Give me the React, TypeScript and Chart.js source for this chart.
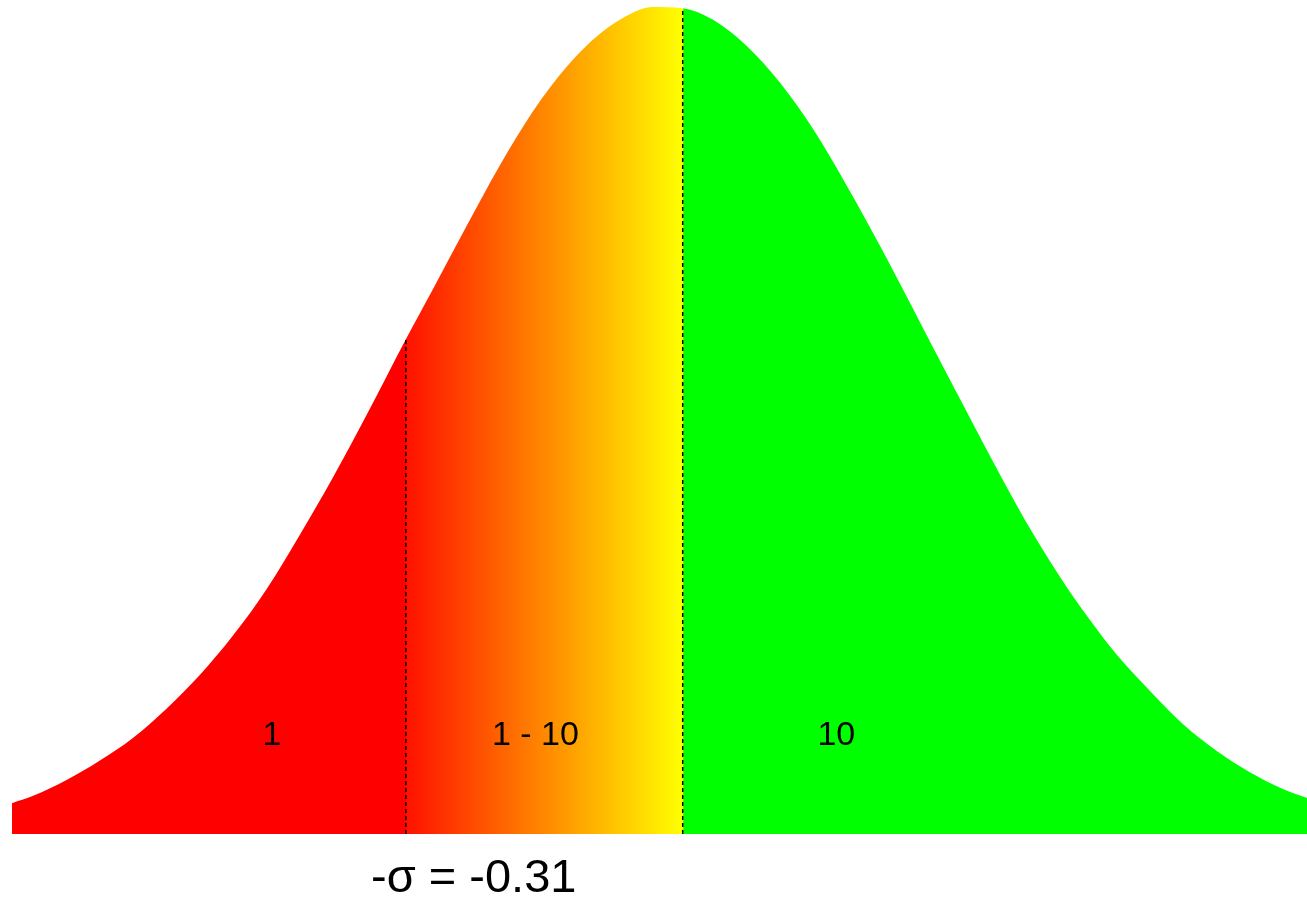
import React, { useEffect, useRef } from "react";
import { Chart, registerables } from "chart.js";

Chart.register(...registerables);

// Curve (x in data units, y = density)
const curveX = [
  -0.751, -0.728, -0.69, -0.653, -0.616, -0.578, -0.541, -0.504, -0.466, -0.429,
  -0.392, -0.354, -0.31, -0.28, -0.242, -0.205, -0.168, -0.13, -0.093,
  -0.056, -0.034, 0, 0.034, 0.072, 0.109, 0.146, 0.184, 0.221, 0.258,
  0.28, 0.318, 0.355, 0.392, 0.43, 0.456, 0.486, 0.523, 0.56, 0.598,
  0.635, 0.672, 0.699,
];
const curveY = [
  0.048, 0.059, 0.084, 0.114, 0.149, 0.195, 0.247, 0.308, 0.381, 0.465,
  0.554, 0.652, 0.77, 0.847, 0.946, 1.04, 1.124, 1.194, 1.245,
  1.278, 1.287, 1.285, 1.267, 1.226, 1.169, 1.097, 1.008, 0.915, 0.817,
  0.758, 0.657, 0.56, 0.468, 0.384, 0.333, 0.279, 0.223, 0.171, 0.129,
  0.096, 0.07, 0.056,
];

const sigmaX = -0.31;
const sigmaTop = 0.77;
const meanX = 0;
const meanTop = 1.285;

const regionLabels = ["1", "1 - 10", "10"];
const regionLabelX = [-0.46, -0.165, 0.172];
const regionLabelY = 0.153;

const sigmaLabel = "-\u03c3 = -0.31";
const sigmaLabelX = -0.234;

const xMin = -0.751;
const xMax = 0.699;
const yMax = 1.287;

const labelsPlugin = {
  id: "regionLabels",
  afterDatasetsDraw(chart: any) {
    const { ctx, scales, chartArea } = chart;
    const xs = scales.x;
    const ys = scales.y;
    ctx.save();
    ctx.fillStyle = "#000";
    ctx.textAlign = "center";
    ctx.textBaseline = "middle";
    ctx.font = '34px "Liberation Sans", Arial, sans-serif';
    regionLabels.forEach((t, i) => {
      ctx.fillText(t, xs.getPixelForValue(regionLabelX[i]), ys.getPixelForValue(regionLabelY));
    });
    ctx.font = '47px "Liberation Sans", Arial, sans-serif';
    ctx.fillText(sigmaLabel, xs.getPixelForValue(sigmaLabelX), chartArea.bottom + 45);
    ctx.restore();
  },
};

export default function App() {
  const ref = useRef<HTMLCanvasElement | null>(null);
  useEffect(() => {
    if (!ref.current) return;
    const fillFn = (context: any) => {
      const chart = context.chart;
      const { ctx, chartArea, scales } = chart;
      if (!chartArea || !scales.x) return "#ff0000";
      const w = chartArea.right - chartArea.left;
      const f1 = (scales.x.getPixelForValue(sigmaX) - chartArea.left) / w;
      const f2 = (scales.x.getPixelForValue(meanX) - chartArea.left) / w;
      const g = ctx.createLinearGradient(chartArea.left, 0, chartArea.right, 0);
      g.addColorStop(0, "#ff0000");
      g.addColorStop(Math.max(0, f1), "#ff0000");
      g.addColorStop(Math.min(1, f1 + 0.0008), "#ff1200");
      g.addColorStop(Math.min(1, f2), "#ffff00");
      g.addColorStop(Math.min(1, f2 + 0.0008), "#00ff00");
      g.addColorStop(1, "#00ff00");
      return g;
    };
    const chart = new Chart(ref.current, {
      type: "line",
      data: {
        datasets: [
          {
            data: curveX.map((x, i) => ({ x, y: curveY[i] })),
            fill: "origin",
            backgroundColor: fillFn,
            borderWidth: 0,
            borderColor: "rgba(0,0,0,0)",
            pointRadius: 0,
            cubicInterpolationMode: "monotone",
            order: 2,
          },
          {
            data: [
              { x: sigmaX, y: 0 },
              { x: sigmaX, y: sigmaTop },
            ],
            fill: false,
            borderColor: "#000",
            borderWidth: 1.5,
            borderDash: [4, 3],
            pointRadius: 0,
            order: 0,
          },
          {
            data: [
              { x: meanX, y: 0 },
              { x: meanX, y: meanTop },
            ],
            fill: false,
            borderColor: "#000",
            borderWidth: 1.5,
            borderDash: [4, 3],
            pointRadius: 0,
            order: 0,
          },
        ],
      } as any,
      options: {
        animation: false,
        responsive: false,
        layout: { padding: { left: 12, right: 0, top: 7, bottom: 64 } },
        plugins: { legend: { display: false }, tooltip: { enabled: false } },
        scales: {
          x: { type: "linear", min: xMin, max: xMax, display: false },
          y: { type: "linear", min: 0, max: yMax, display: false },
        },
      } as any,
      plugins: [labelsPlugin],
    });
    return () => chart.destroy();
  }, []);
  return (
    <div style={{ position: "absolute", left: 0, top: 0, width: 1307, height: 898, background: "#fff" }}>
      <canvas ref={ref} width={1307} height={898} style={{ display: "block" }} />
    </div>
  );
}
